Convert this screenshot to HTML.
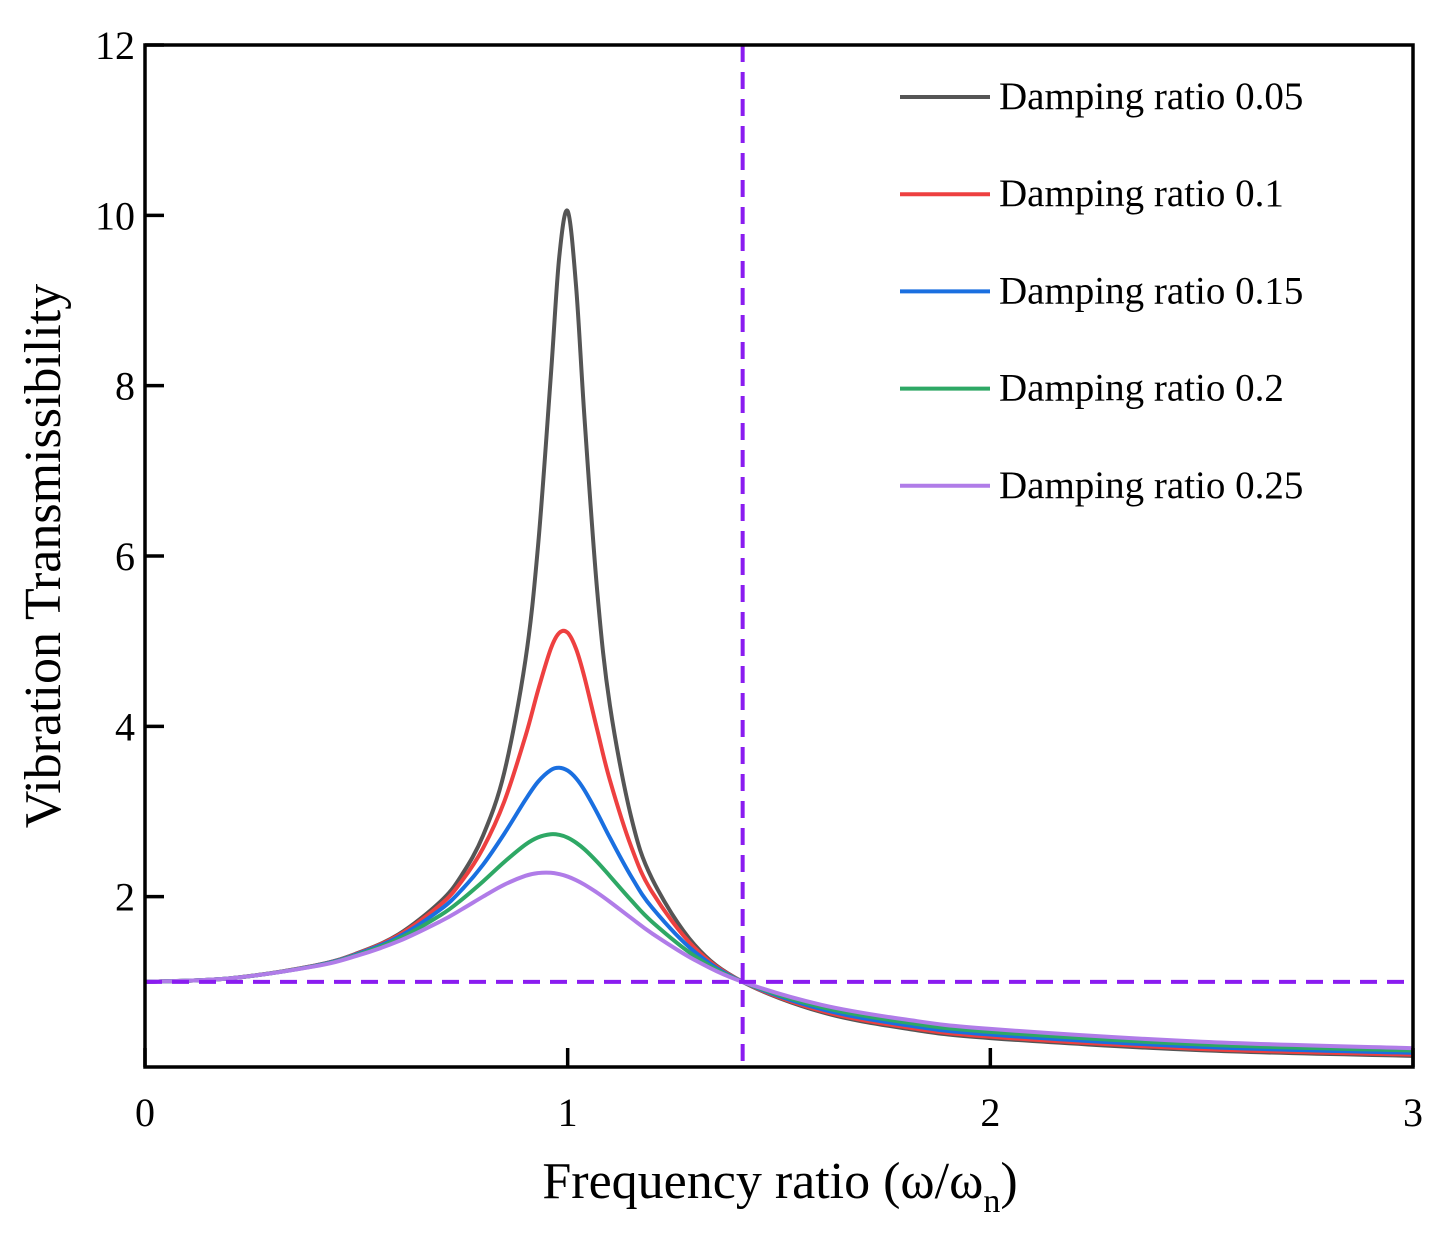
<!DOCTYPE html>
<html><head><meta charset="utf-8"><style>
html,body{margin:0;padding:0;background:#fff}
svg text{font-family:"Liberation Serif",serif;fill:#000}
</style></head><body>
<svg id="chart" width="1444" height="1231" viewBox="0 0 1444 1231" xmlns="http://www.w3.org/2000/svg">
<g id="plot"></g>
</svg>
<script>
const ratios = [0,0.2,0.4,0.5,0.6,0.7,0.75,0.8,0.85,0.9,0.93,0.96,0.98,1.0,1.02,1.04,1.07,1.1,1.15,1.2,1.3,1.414,1.6,1.8,2.0,2.5,3.0];
const seriesNames = ["Damping ratio 0.05","Damping ratio 0.1","Damping ratio 0.15","Damping ratio 0.2","Damping ratio 0.25"];
const seriesColors = ["#555555","#ee4040","#1a6fe0","#2ea865","#b07ce8"];
const t005 = [1,1.041,1.190,1.332,1.558,1.947,2.259,2.720,3.459,4.776,6.124,8.105,9.507,10.05,9.161,7.607,5.583,4.244,2.940,2.208,1.436,1,0.6458,0.4522,0.3392,0.1961,0.1304];
const t010 = [1,1.041,1.189,1.328,1.547,1.909,2.186,2.571,3.117,3.882,4.425,4.910,5.097,5.099,4.908,4.572,3.957,3.366,2.591,2.052,1.401,1,0.6593,0.4685,0.3559,0.2120,0.1454];
const t015 = [1,1.041,1.187,1.322,1.528,1.853,2.084,2.377,2.739,3.137,3.350,3.486,3.514,3.480,3.389,3.248,2.982,2.692,2.240,1.870,1.354,1,0.6796,0.4932,0.3812,0.2357,0.1671];
const t020 = [1,1.041,1.184,1.314,1.505,1.785,1.968,2.180,2.407,2.611,2.696,2.733,2.726,2.693,2.634,2.555,2.407,2.241,1.959,1.703,1.305,1,0.7041,0.5237,0.4125,0.2646,0.1931];
const t025 = [1,1.041,1.181,1.304,1.477,1.713,1.853,2.001,2.141,2.245,2.277,2.281,2.265,2.236,2.194,2.141,2.046,1.939,1.750,1.567,1.258,1,0.7305,0.5573,0.4472,0.2966,0.2215];
const xTicks = [0,1,2,3];
const yTicks = [2,4,6,8,10,12];
const refX = 1.414;
const refY = 1;

const L=145,R=1413,T=45,B=1067;
const xs=v=>L+(v-0)/3*(R-L);
const ys=v=>B-(v/12)*(B-T);
const NS="http://www.w3.org/2000/svg";
const plot=document.getElementById('plot');
function mk(tag,attrs,parent){const e=document.createElementNS(NS,tag);for(const k in attrs)e.setAttribute(k,attrs[k]);(parent||plot).appendChild(e);return e;}

function pathFor(vals){
  const p=ratios.map((r,i)=>[xs(r),ys(vals[i])]);
  let d=`M${p[0][0]},${p[0][1]}`;
  for(let i=0;i<p.length-1;i++){
    const p0=p[i-1]||p[i],p1=p[i],p2=p[i+1],p3=p[i+2]||p2;
    const c1=[p1[0]+(p2[0]-p0[0])/6,p1[1]+(p2[1]-p0[1])/6];
    const c2=[p2[0]-(p3[0]-p1[0])/6,p2[1]-(p3[1]-p1[1])/6];
    d+=` C${c1[0]},${c1[1]} ${c2[0]},${c2[1]} ${p2[0]},${p2[1]}`;
  }
  return d;
}

const allSeries=[t005,t010,t015,t020,t025];
allSeries.forEach((vals,i)=>{
  const e=mk('path',{d:pathFor(vals),fill:'none',stroke:seriesColors[i],'stroke-width':4,'stroke-linejoin':'round'});
  
  
});

const vl=mk('line',{x1:xs(refX),x2:xs(refX),y1:T,y2:B,stroke:'#8a1cf0','stroke-width':4,'stroke-dasharray':'17 10'});


const hl=mk('line',{x1:L,x2:R,y1:ys(refY),y2:ys(refY),stroke:'#8a1cf0','stroke-width':4,'stroke-dasharray':'17 10'});



const fr=mk('rect',{x:L,y:T,width:R-L,height:B-T,fill:'none',stroke:'#000','stroke-width':3.5});



xTicks.forEach(v=>{
  const t=mk('line',{x1:xs(v),x2:xs(v),y1:B,y2:B-19,stroke:'#000','stroke-width':3.5});
  
  
  const lb=mk('text',{x:xs(v),y:1126,'text-anchor':'middle','font-size':40});
  lb.textContent=v;
  
  
});
yTicks.forEach(v=>{
  const t=mk('line',{x1:L,x2:L+19,y1:ys(v),y2:ys(v),stroke:'#000','stroke-width':3.5});
  
  
  const lb=mk('text',{x:L-10,y:ys(v)+14,'text-anchor':'end','font-size':40});
  lb.textContent=v;
  
  
});

seriesNames.forEach((n,i)=>{
  const y=97+i*97.2;
  const ln=mk('line',{x1:900,x2:990,y1:y,y2:y,stroke:seriesColors[i],'stroke-width':4});
  
  
  const tx=mk('text',{x:999,y:y+12,'font-size':39});
  tx.textContent=n;
  
  
});

const xt=mk('text',{x:780,y:1198,'text-anchor':'middle','font-size':52});
xt.innerHTML='Frequency ratio (ω/ω<tspan font-size="34" dy="14">n</tspan><tspan dy="-14">)</tspan>';


const yt=mk('text',{x:0,y:0,'text-anchor':'middle','font-size':52,transform:'translate(60,556) rotate(-90)'});
yt.textContent='Vibration Transmissibility';


</script>
</body></html>
